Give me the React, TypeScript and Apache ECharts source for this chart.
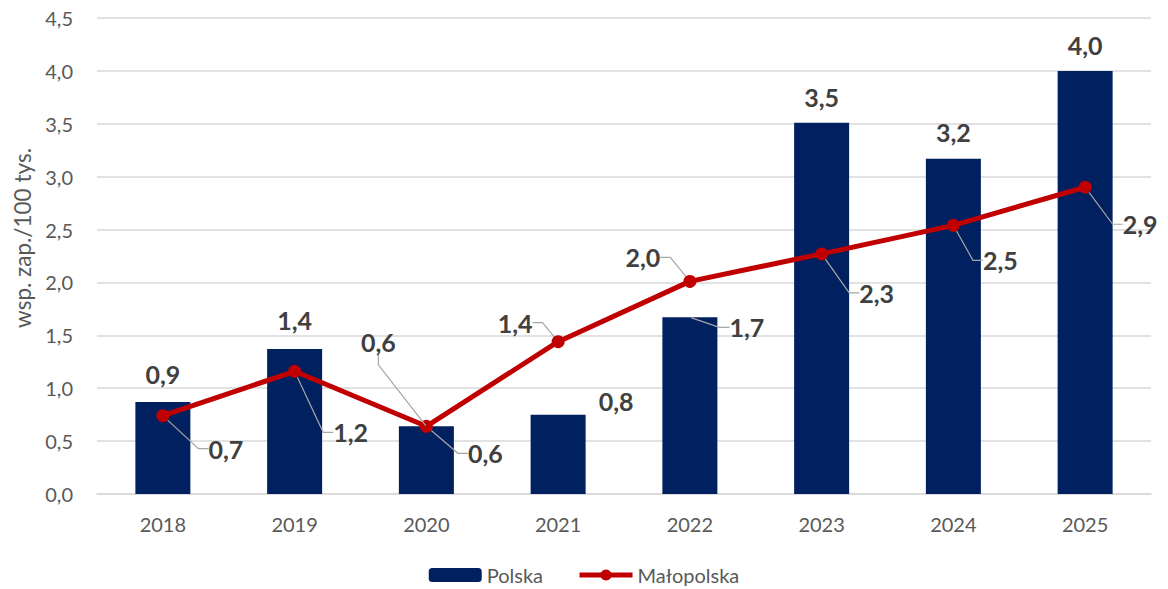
import React, { useEffect, useRef } from "react";
import * as echarts from "echarts";

const years = ["2018", "2019", "2020", "2021", "2022", "2023", "2024", "2025"];
const polska = [0.87, 1.37, 0.64, 0.75, 1.67, 3.51, 3.17, 4.0];
const malopolska = [0.74, 1.16, 0.64, 1.44, 2.01, 2.27, 2.54, 2.9];

// label offsets (label centre relative to the mark's anchor point)
const polskaLabelDx = [0, 0, -48, 58, 57, 0, 0, 0];
const polskaLabelDy = [-28, -29, -84, -14, 10, -26, -27, -26];
const polskaLeader = [false, false, true, false, true, false, false, false];
const maloLabelDx = [63, 56, 59, -43, -47, 55, 47, 55];
const maloLabelDy = [33, 61, 27, -19, -24, 39, 35, 37];

const FONT = "Lato, 'Open Sans', sans-serif";
const fmt = (v: number) => Number(v).toFixed(1).replace(".", ",");

export default function App() {
  const ref = useRef<HTMLDivElement>(null);
  useEffect(() => {
    document.body.style.margin = "0";
    const chart = echarts.init(ref.current!, undefined, { renderer: "svg" });
    const labelStyle = {
      show: true,
      position: "inside",
      color: "#404040",
      fontSize: 25,
      fontWeight: "bold",
      fontFamily: FONT,
      formatter: (p: any) => fmt(Array.isArray(p.value) ? p.value[1] : p.value),
    };
    const leaderStyle = { color: "#a6a6a6", width: 1.2 };
    chart.setOption({
      animation: false,
      textStyle: { fontFamily: FONT },
      grid: { left: 97, right: 17, top: 18, bottom: 95 },
      legend: {
        data: [
          { name: "Polska" },
          { name: "Małopolska", lineStyle: { width: 5, color: "#C00000" } },
        ],
        top: 560,
        left: "center",
        itemWidth: 53,
        itemHeight: 14,
        itemGap: 34,
        textStyle: { color: "#595959", fontSize: 20, fontFamily: FONT },
      },
      xAxis: {
        type: "category",
        data: years,
        axisLine: { lineStyle: { color: "#d9d9d9", width: 1.5 } },
        axisTick: { show: false },
        axisLabel: { color: "#595959", fontSize: 20, margin: 20, fontFamily: FONT },
      },
      yAxis: {
        type: "value",
        min: 0,
        max: 4.5,
        interval: 0.5,
        name: "wsp. zap./100 tys.",
        nameLocation: "middle",
        nameGap: 63,
        nameTextStyle: {
          color: "#595959",
          fontSize: 22.5,
          fontFamily: FONT,
          padding: [0, 0, 0, 36],
        },
        axisLine: { show: false },
        axisTick: { show: false },
        splitLine: { lineStyle: { color: "#d9d9d9", width: 1.5 } },
        axisLabel: {
          color: "#595959",
          fontSize: 20,
          margin: 24,
          fontFamily: FONT,
          formatter: (v: number) => fmt(v),
        },
      },
      series: [
        {
          name: "Polska",
          type: "bar",
          data: polska,
          barWidth: 55,
          itemStyle: { color: "#002060" },
          z: 2,
        },
        {
          name: "PolskaLabels",
          type: "line",
          data: polska.map((v, i) => ({
            value: v,
            labelLine: { show: polskaLeader[i] },
          })),
          symbol: "circle",
          symbolSize: 2,
          itemStyle: { color: "rgba(0,0,0,0)" },
          lineStyle: { width: 0, color: "rgba(0,0,0,0)" },
          label: labelStyle,
          labelLine: { show: false, length2: 10, lineStyle: leaderStyle },
          labelLayout: (p: any) => ({
            dx: polskaLabelDx[p.dataIndex],
            dy: polskaLabelDy[p.dataIndex],
          }),
          silent: true,
          z: 4,
        },
        {
          name: "Małopolska",
          type: "line",
          data: malopolska,
          symbol: "circle",
          symbolSize: 13,
          showAllSymbol: true,
          itemStyle: { color: "#C00000" },
          lineStyle: { color: "#C00000", width: 5 },
          label: labelStyle,
          labelLine: { show: true, length2: 10, lineStyle: leaderStyle },
          labelLayout: (p: any) => ({
            dx: maloLabelDx[p.dataIndex],
            dy: maloLabelDy[p.dataIndex],
          }),
          z: 3,
        },
      ],
    });
    return () => chart.dispose();
  }, []);
  return <div ref={ref} style={{ width: 1168, height: 589 }} />;
}
